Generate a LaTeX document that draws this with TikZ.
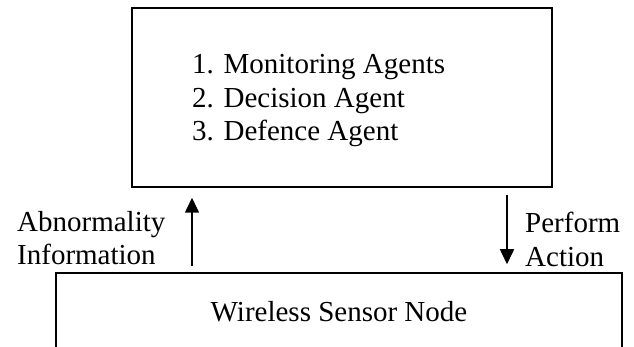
\documentclass[tikz,border=0pt]{standalone}
\usepackage{fontspec}
\setmainfont{Liberation Serif}
\usetikzlibrary{arrows.meta, positioning}
\tikzset{
  box/.style={rectangle, draw, line width=1.5pt, inner sep=0pt},
  txt/.style={font=\fontsize{29}{33.5}\selectfont, align=left, inner sep=0pt},
  arr/.style={-{Triangle[length=15pt, width=14pt]}, line width=1.6pt},
}
\begin{document}
\begin{tikzpicture}[x=1pt, y=-1pt]
  \useasboundingbox (0,0) rectangle (634,347);
  \clip (0,0) rectangle (634,347);

  % ---- agents box ----
  \node[box, minimum width=420pt, minimum height=179pt] (agents) at (342,97.5) {};
  \node[txt, anchor=north west] (list) at (192,54.2)
       {1. Monitoring Agents\\2. Decision Agent\\3. Defence Agent};

  % ---- sensor node (cut at the bottom) ----
  \node[box, txt, minimum width=566pt, minimum height=78pt] (wsn) at (339,312)
       {Wireless Sensor Node};

  % ---- arrows and labels ----
  \coordinate (upx) at (192,0);
  \coordinate (dnx) at (507,0);
  \draw[arr, shorten <=6pt, shorten >=10pt] (upx |- wsn.north) -- (upx |- agents.south);
  \draw[arr, shorten <=7pt, shorten >=8pt] (dnx |- agents.south) -- (dnx |- wsn.north);

  \node[txt, anchor=north west] (abn) at (17,211) {Abnormality\\Information};
  \node[txt, anchor=north west] (perf) at (525,212) {Perform\\Action};
\end{tikzpicture}
\end{document}
